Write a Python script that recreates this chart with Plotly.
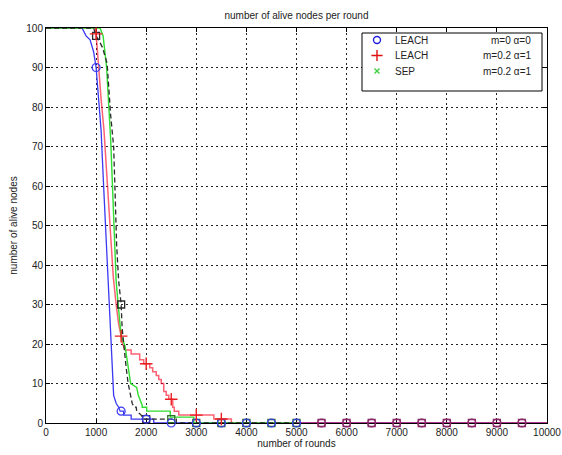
import numpy as np
import plotly.graph_objects as go

# ---------------- data ----------------
# LEACH  m=0  alpha=0  (blue, circles)
leach0_x = [0, 720, 800, 880, 950, 1000, 1050, 1100, 1150, 1200, 1250, 1300, 1325,
            1350, 1400, 1450, 1480, 1550, 1550, 1700, 1700, 2150, 2150, 10000]
leach0_y = [100, 100, 98, 97, 94, 90, 82, 74, 60, 46, 32, 17, 10,
            7, 5, 4, 3, 3, 2, 2, 1, 1, 0, 0]

# LEACH  m=0.2  alpha=1  (red, plus)
leach2_x = [0, 990, 1010, 1050, 1100, 1158, 1211, 1280, 1343, 1400, 1450, 1500, 1530,
            1580, 1700, 1700, 1870, 1870, 1950, 1950, 2070, 2070, 2130, 2130, 2200,
            2200, 2250, 2250, 2300, 2300, 2350, 2350, 2400, 2400, 2450, 2450, 2530,
            2530, 2560, 2560, 2650, 2650, 3350, 3350, 3700, 3700, 10000]
leach2_y = [100, 100, 97, 90, 82, 74, 63, 50, 37, 30, 25, 22, 20,
            18.5, 18.5, 17.5, 17.5, 16, 16, 15, 15, 14, 14, 13, 13,
            12, 12, 11, 11, 10, 10, 8, 8, 7, 7, 6, 6,
            4, 4, 3, 3, 2, 2, 1, 1, 0, 0]

# SEP  m=0.2  alpha=1  (green)
sep_x = [0, 1080, 1140, 1210, 1290, 1400, 1440, 1500, 1577, 1640, 1690, 1810, 1843,
         1920, 1920, 2010, 2010, 2480, 2480, 2950, 2950, 5000]
sep_y = [100, 100, 98, 90, 72, 36, 30, 22, 19.5, 14, 10, 9, 7,
         4.5, 4, 4, 3, 3, 1.5, 1.5, 0, 0]

# fourth curve (black dashed, squares, not in legend)
ref_x = [0, 950, 1000, 1050, 1130, 1220, 1290, 1350, 1380, 1410, 1450, 1500, 1520,
         1560, 1600, 1640, 1680, 1720, 1760, 1800, 1810, 1900, 1950, 2600, 2600, 5000]
ref_y = [100, 100, 98, 97, 95, 91, 78, 70, 58, 45, 36, 30, 24,
         18, 14, 10, 7, 5, 4, 4, 3, 2, 1, 1, 0, 0]

marker_rounds_circle = list(range(1000, 10000, 500))
marker_rounds_plus = [1000, 1500, 2000, 2500, 3000, 3500]
marker_rounds_square = list(range(1000, 10000, 500))

x_ticks = list(range(0, 10001, 1000))
x_tick_labels = [str(v) for v in x_ticks]
y_ticks = list(range(0, 101, 10))

legend_labels = ["LEACH", "LEACH", "SEP"]
legend_params = ["m=0 \u03b1=0", "m=0.2 \u03b1=1", "m=0.2 \u03b1=1"]

# ---------------- figure ----------------
BLUE = "#3a3af2"
RED = "rgba(255,0,30,0.62)"
GREEN = "#2fdc2f"
DARK = "#2a2a2a"
TAIL = "#8a2868"
FONT = "Liberation Sans, Arial, sans-serif"
X_MAX, Y_MAX = 10000, 100

# plot-area geometry in pixels (used only to place the hand-built legend)
PL, PR, PT, PB = 46, 547, 28, 423


def px_x(p):
    return (p - PL) / (PR - PL)


def px_y(p):
    return (PB - p) / (PB - PT)


def at(xs, ys, rounds):
    return list(np.interp(rounds, xs, ys))


fig = go.Figure()

# lines
fig.add_trace(go.Scatter(x=leach0_x, y=leach0_y, mode="lines",
                         line=dict(color=BLUE, width=1.3)))
fig.add_trace(go.Scatter(x=leach2_x, y=leach2_y, mode="lines",
                         line=dict(color=RED, width=1.5)))
fig.add_trace(go.Scatter(x=sep_x, y=sep_y, mode="lines",
                         line=dict(color=GREEN, width=1.4)))
fig.add_trace(go.Scatter(x=ref_x, y=ref_y, mode="lines",
                         line=dict(color=DARK, width=1.3, dash="5px,3px")))

# markers
sq_colors = [DARK if r <= 2000 else ("#2d6e2d" if r <= 5000 else TAIL)
             for r in marker_rounds_square]
fig.add_trace(go.Scatter(x=marker_rounds_square, y=at(ref_x, ref_y, marker_rounds_square),
                         mode="markers", cliponaxis=False,
                         marker=dict(symbol="square-open", size=7, color=sq_colors,
                                     line=dict(width=1.3))))
ci_colors = [BLUE if r <= 5000 else TAIL for r in marker_rounds_circle]
fig.add_trace(go.Scatter(x=marker_rounds_circle, y=at(leach0_x, leach0_y, marker_rounds_circle),
                         mode="markers", cliponaxis=False,
                         marker=dict(symbol="circle-open", size=8, color=ci_colors,
                                     line=dict(width=1.2))))
fig.add_trace(go.Scatter(x=marker_rounds_plus, y=at(leach2_x, leach2_y, marker_rounds_plus),
                         mode="markers", cliponaxis=False,
                         marker=dict(symbol="cross-thin-open", size=9, color="#e82020",
                                     line=dict(width=1.4))))

# hand-built legend (box in the main axes, markers on an overlay unit axis, text)
leg_rows = [px_y(40), px_y(55.5), px_y(71)]
leg_sym_x = px_x(377)
leg_syms = [("circle-open", 7, "#2020e0"), ("cross-thin-open", 8, "#e01010"),
            ("x-thin-open", 5, "#40d040")]
for (sym, sz, col), ry in zip(leg_syms, leg_rows):
    fig.add_trace(go.Scatter(x=[leg_sym_x], y=[ry], xaxis="x2", yaxis="y2",
                             mode="markers", cliponaxis=False,
                             marker=dict(symbol=sym, size=sz, color=col,
                                         line=dict(width=1.4))))

fig.add_shape(type="rect", xref="x", yref="y",
              x0=px_x(362) * X_MAX, x1=px_x(542) * X_MAX,
              y0=px_y(91) * Y_MAX, y1=px_y(33) * Y_MAX,
              line=dict(color="black", width=1), fillcolor="white", layer="between")
for lab, par, ry in zip(legend_labels, legend_params, leg_rows):
    fig.add_annotation(x=px_x(393), y=ry, xref="paper", yref="paper", text=lab,
                       showarrow=False, xanchor="left", yanchor="middle",
                       font=dict(size=10, color="#222", family=FONT))
    fig.add_annotation(x=px_x(533), y=ry, xref="paper", yref="paper", text=par,
                       showarrow=False, xanchor="right", yanchor="middle",
                       font=dict(size=10, color="#222", family=FONT))

axis_common = dict(
    showgrid=True, gridcolor="#222", gridwidth=1, griddash="2px,3px",
    showline=True, linecolor="black", linewidth=1, mirror="ticks",
    ticks="inside", ticklen=4, tickcolor="black", zeroline=False,
    layer="below traces", tickfont=dict(size=10, color="#222"), automargin=False,
)

fig.update_layout(
    width=562, height=455,
    margin=dict(l=PL, r=562 - PR, t=PT, b=455 - PB),
    paper_bgcolor="white", plot_bgcolor="white",
    font=dict(family=FONT, size=10, color="#222"),
    showlegend=False,
    hovermode=False,
    title=dict(text="number of alive nodes per round", x=0.5, xref="paper",
               xanchor="center", y=1 - 15 / 455, yanchor="middle",
               font=dict(size=10, color="#222")),
    xaxis=dict(range=[0, X_MAX], tickvals=x_ticks, ticktext=x_tick_labels,
               title=dict(text="number of rounds", standoff=2, font=dict(size=10)),
               **axis_common),
    yaxis=dict(range=[0, Y_MAX], tickvals=y_ticks,
               title=dict(text="number of alive nodes", standoff=6, font=dict(size=10)),
               **axis_common),
    xaxis2=dict(range=[0, 1], overlaying="x", visible=False, anchor="y2"),
    yaxis2=dict(range=[0, 1], overlaying="y", visible=False, anchor="x2"),
)

fig.write_html("out.html", config={"displayModeBar": False, "staticPlot": True},
               post_script="document.body.style.margin='0';document.body.style.padding='0';")
